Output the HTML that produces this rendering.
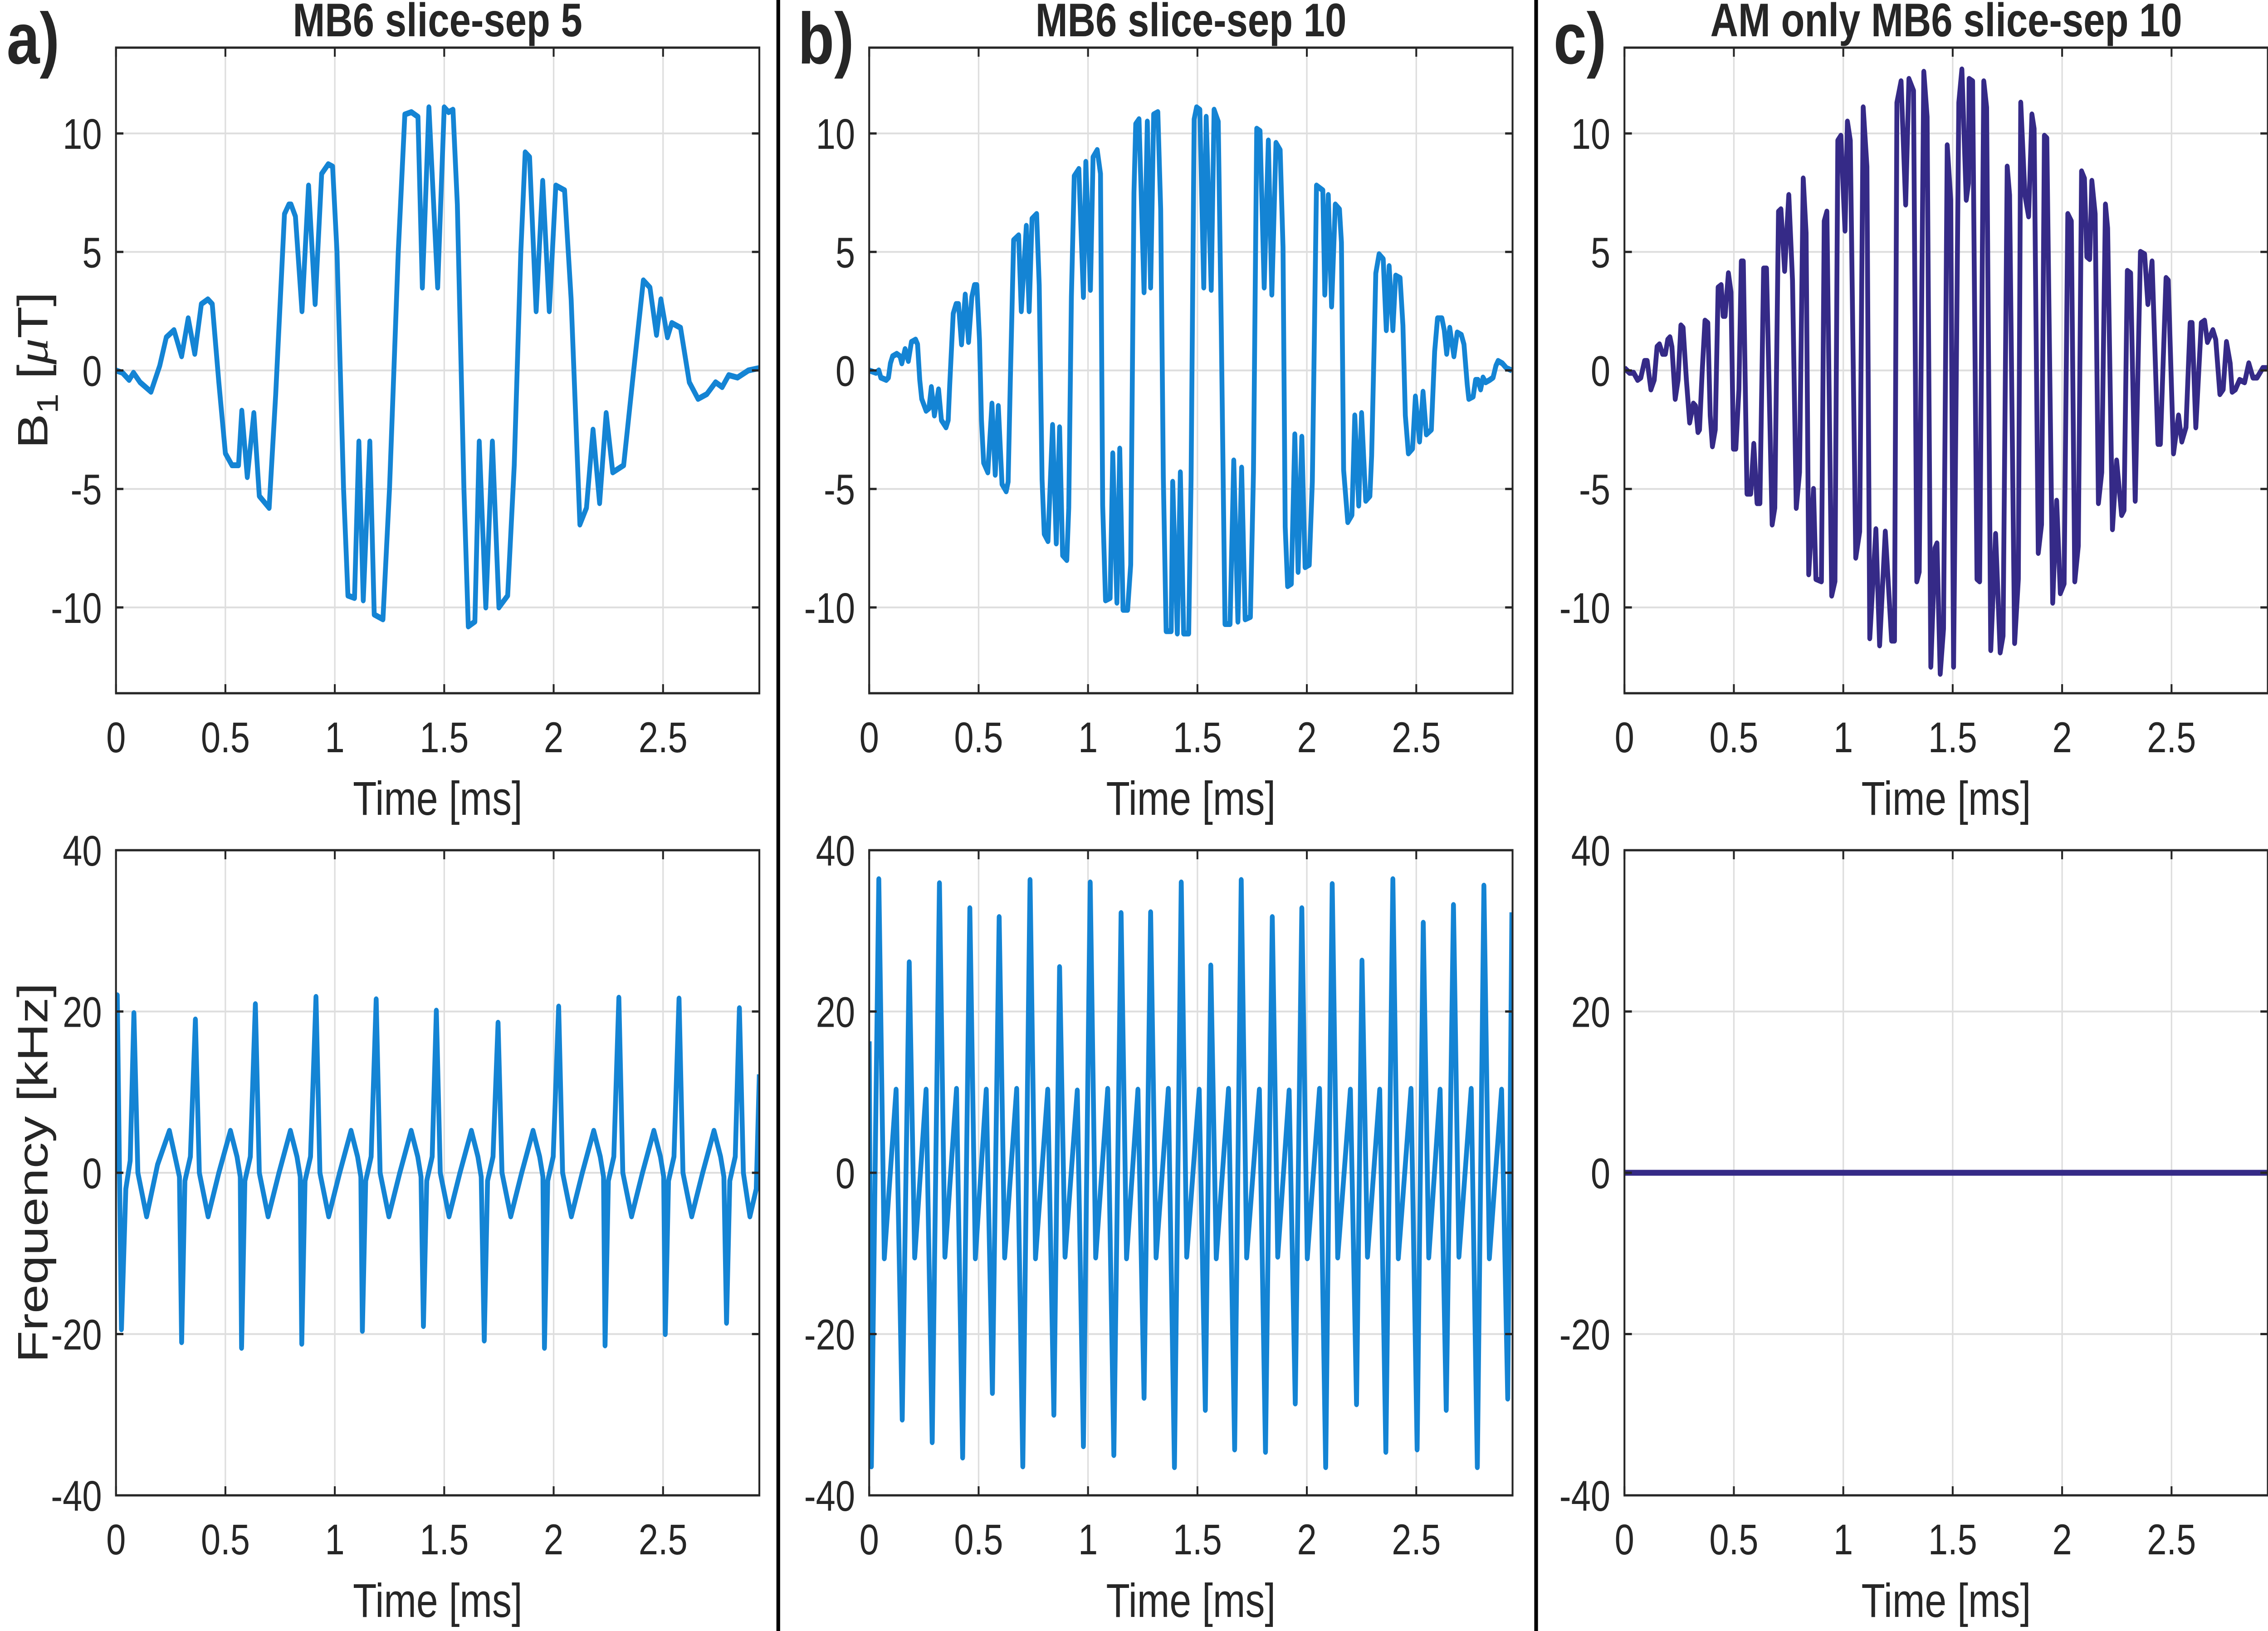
<!DOCTYPE html>
<html><head><meta charset="utf-8"><title>B1 and frequency waveforms</title>
<style>html,body{margin:0;padding:0;background:#fff;width:100%;height:100%;overflow:hidden;}svg{display:block;width:100vw;height:100vh;}
text{font-family:"Liberation Sans",Arial,sans-serif;fill:#262626;}</style></head>
<body>
<svg id="fig" xmlns="http://www.w3.org/2000/svg" viewBox="0 0 6111 3595" preserveAspectRatio="none"></svg>
<script>
// ---------- data ----------
const xTicks = [0, 0.5, 1, 1.5, 2, 2.5];
const xTickLabels = ["0", "0.5", "1", "1.5", "2", "2.5"];
const b1Ticks = [-10, -5, 0, 5, 10];
const b1TickLabels = ["-10", "-5", "0", "5", "10"];
const freqTicks = [-40, -20, 0, 20, 40];
const freqTickLabels = ["-40", "-20", "0", "20", "40"];
const panelTitles = ["MB6 slice-sep 5", "MB6 slice-sep 10", "AM only MB6 slice-sep 10"];
const panelLetters = ["a)", "b)", "c)"];

const aB1Time = [0,0.03,0.06,0.08,0.11,0.16,0.2,0.23,0.265,0.3,0.33,0.36,0.39,0.42,0.44,0.47,0.5,0.53,0.56,0.575,0.6,0.63,0.655,0.7,0.73,0.77,0.79,0.8,0.82,0.85,0.88,0.91,0.94,0.97,0.99,1.01,1.04,1.06,1.09,1.11,1.13,1.16,1.18,1.22,1.25,1.29,1.32,1.35,1.38,1.40,1.43,1.47,1.50,1.52,1.54,1.56,1.59,1.61,1.64,1.66,1.69,1.72,1.75,1.79,1.82,1.85,1.87,1.89,1.92,1.95,1.98,2.01,2.05,2.08,2.12,2.15,2.18,2.21,2.24,2.27,2.32,2.36,2.41,2.44,2.47,2.49,2.52,2.54,2.58,2.62,2.66,2.7,2.74,2.77,2.8,2.84,2.89,2.94];
const aB1Value = [0,-0.1,-0.4,-0.1,-0.5,-0.9,0.2,1.4,1.7,0.6,2.2,0.7,2.8,3.0,2.8,-0.5,-3.5,-4.0,-4.0,-1.7,-4.5,-1.8,-5.3,-5.8,-1.0,6.6,7.0,7.0,6.5,2.5,7.8,2.8,8.3,8.7,8.6,5,-5,-9.5,-9.6,-3.0,-9.7,-3.0,-10.3,-10.5,-5,5,10.8,10.9,10.7,3.5,11.1,3.5,11.1,10.9,11.0,7,-5,-10.8,-10.6,-3.0,-10.0,-3.0,-10.0,-9.5,-4,5,9.2,9.0,2.5,8.0,2.5,7.8,7.6,3,-6.5,-5.8,-2.5,-5.6,-1.8,-4.3,-4.0,-0.5,3.8,3.5,1.5,3.0,1.4,2.0,1.8,-0.5,-1.2,-1.0,-0.5,-0.7,-0.2,-0.3,0,0.1];

const aFreqTime = [0,0.006,0.025,0.045,0.065,0.082,0.1,0.14,0.19,0.244,0.27,0.29,
0.30,0.315,0.34,0.363,0.381,0.421,0.47,0.523,0.553,0.568,
0.574,0.589,0.614,0.637,0.655,0.695,0.745,0.797,0.827,0.842,
0.849,0.864,0.889,0.914,0.932,0.972,1.022,1.074,1.104,1.119,
1.126,1.141,1.166,1.189,1.207,1.247,1.297,1.349,1.379,1.394,
1.405,1.42,1.445,1.464,1.482,1.522,1.572,1.624,1.654,1.669,
1.683,1.698,1.723,1.746,1.764,1.804,1.854,1.906,1.936,1.951,
1.958,1.973,1.998,2.023,2.041,2.081,2.131,2.183,2.213,2.228,
2.235,2.25,2.275,2.298,2.316,2.356,2.406,2.458,2.488,2.503,
2.51,2.525,2.55,2.573,2.591,2.631,2.681,2.733,2.763,2.778,
2.79,2.805,2.83,2.849,2.867,2.897,2.926,2.94];
const aFreqValue = [0,22,-19.4,-2,1.5,19.8,0,-5.4,1,5.2,2,-0.5,
-21,-1,2,19,0,-5.4,0,5.2,2,-0.5,
-21.7,-1,2,20.9,0,-5.4,0,5.2,2,-0.5,
-21.2,-1,2,21.8,0,-5.4,0,5.2,2,-0.5,
-19.6,-1,2,21.5,0,-5.4,0,5.2,2,-0.5,
-19,-1,2,20.1,0,-5.4,0,5.2,2,-0.5,
-20.8,-1,2,18.6,0,-5.4,0,5.2,2,-0.5,
-21.7,-1,2,20.6,0,-5.4,0,5.2,2,-0.5,
-21.4,-1,2,21.7,0,-5.4,0,5.2,2,-0.5,
-20,-1,2,21.6,0,-5.4,0,5.2,2,-0.5,
-18.6,-1,2,20.4,0,-5.4,-2,12.2];

const bB1Time = [0,0.031,0.044,0.053,0.078,0.088,0.097,0.107,0.126,0.141,0.149,0.164,0.179,0.193,0.212,0.221,0.231,0.240,0.260,0.273,0.284,0.298,0.317,0.330,0.351,0.361,0.368,0.384,0.397,0.408,0.422,0.439,0.454,0.469,0.481,0.492,0.504,0.513,0.523,0.542,0.561,0.576,0.590,0.607,0.626,0.635,0.645,0.660,0.683,0.695,0.718,0.731,0.744,0.765,0.777,0.790,0.800,0.817,0.838,0.855,0.870,0.884,0.903,0.912,0.924,0.937,0.958,0.979,0.990,1.011,1.023,1.042,1.057,1.067,1.080,1.101,1.113,1.132,1.145,1.160,1.181,1.195,1.210,1.218,1.233,1.256,1.271,1.286,1.300,1.319,1.332,1.344,1.357,1.380,1.387,1.408,1.422,1.437,1.460,1.471,1.485,1.496,1.511,1.529,1.540,1.563,1.576,1.595,1.609,1.626,1.649,1.666,1.685,1.702,1.718,1.742,1.756,1.771,1.786,1.805,1.824,1.840,1.859,1.878,1.891,1.901,1.912,1.929,1.945,1.960,1.977,1.992,2.011,2.025,2.044,2.073,2.082,2.098,2.113,2.130,2.149,2.158,2.168,2.187,2.206,2.219,2.237,2.250,2.269,2.288,2.296,2.315,2.330,2.349,2.363,2.376,2.393,2.406,2.426,2.439,2.450,2.464,2.483,2.496,2.515,2.531,2.546,2.569,2.584,2.597,2.617,2.628,2.639,2.653,2.672,2.687,2.706,2.718,2.733,2.740,2.760,2.771,2.782,2.794,2.805,2.817,2.836,2.851,2.864,2.874,2.893,2.912,2.937];
const bB1Value = [0.0,-0.1,0,-0.3,-0.4,-0.3,0.3,0.6,0.7,0.6,0.3,0.9,0.4,1.2,1.3,1.1,-0.4,-1.2,-1.7,-1.6,-0.7,-1.9,-0.8,-2.1,-2.4,-2.1,-0.6,2.4,2.8,2.8,1.1,3.2,1.2,3.1,3.6,3.6,1.3,-2.1,-3.9,-4.3,-1.4,-4.4,-1.5,-4.8,-5.1,-4.7,-0.4,5.5,5.7,2.5,6.1,2.5,6.4,6.6,3.6,-4.6,-6.9,-7.2,-2.3,-7.3,-2.4,-7.8,-8.0,-5.8,3.1,8.2,8.5,3.1,8.8,3.4,9.0,9.3,8.3,-5.7,-9.7,-9.6,-3.5,-9.8,-3.3,-10.1,-10.1,-8.2,7.5,10.4,10.6,3.3,10.5,3.5,10.8,10.9,6.8,-4.5,-11.0,-11.0,-4.7,-11.1,-4.3,-11.1,-11.1,-4.6,10.6,11.1,11.0,3.5,10.7,3.4,11.0,10.5,1.7,-10.7,-10.7,-3.8,-10.6,-4.1,-10.5,-10.4,-4.3,10.2,10.1,3.5,9.7,3.2,9.6,9.3,5.2,-6.6,-9.1,-9.0,-2.7,-8.5,-2.8,-8.3,-8.2,-4.7,7.8,7.6,3.2,7.4,2.7,7.0,6.8,5.4,-4.2,-6.4,-6.1,-1.9,-5.7,-1.8,-5.5,-5.3,-3.6,4.1,4.9,4.7,1.7,4.4,1.7,4.0,3.9,1.9,-1.9,-3.5,-3.3,-1.1,-3.0,-0.9,-2.7,-2.5,0.8,2.2,2.2,1.7,0.7,1.8,0.6,1.6,1.5,1.1,-0.6,-1.2,-1.1,-0.4,-0.4,-0.8,-0.3,-0.5,-0.4,-0.3,0.2,0.4,0.3,0.1,0.0];

const bFreqTime = [0,0.010,0.044,0.069,0.123,
0.151,0.183,0.208,0.26,
0.288,0.321,0.346,0.399,
0.427,0.460,0.485,0.535,
0.563,0.594,0.619,0.674,
0.702,0.735,0.760,0.816,
0.844,0.870,0.895,0.951,
0.979,1.010,1.035,1.090,
1.118,1.151,1.176,1.228,
1.256,1.286,1.311,1.367,
1.395,1.426,1.451,1.508,
1.536,1.561,1.586,1.642,
1.670,1.700,1.725,1.783,
1.811,1.842,1.867,1.919,
1.947,1.977,2.002,2.058,
2.086,2.116,2.141,2.199,
2.227,2.252,2.277,2.333,
2.361,2.393,2.418,2.476,
2.504,2.532,2.557,2.609,
2.637,2.670,2.695,2.751,
2.779,2.809,2.834,2.890,
2.918,2.937];
const bFreqValue = [16.3,-36.4,36.4,-10.6,10.3,
-30.6,26.1,-10.5,10.3,
-33.4,35.9,-10.4,10.4,
-35.3,32.8,-10.6,10.3,
-27.3,31.7,-10.5,10.4,
-36.4,36.3,-10.6,10.3,
-30,25.5,-10.4,10.2,
-33.9,36,-10.5,10.4,
-35,32.2,-10.6,10.3,
-27.9,32.3,-10.5,10.4,
-36.5,36,-10.4,10.3,
-29.4,25.7,-10.6,10.4,
-34.3,36.3,-10.5,10.3,
-34.6,31.7,-10.4,10.2,
-28.6,32.8,-10.6,10.4,
-36.5,35.8,-10.5,10.3,
-28.7,26.3,-10.4,10.3,
-34.6,36.4,-10.6,10.4,
-34.3,31,-10.5,10.3,
-29.4,33.2,-10.4,10.4,
-36.5,35.6,-10.6,10.3,
-28,32.3];

const cB1Time = [0,0.023,0.042,0.060,0.075,0.092,0.104,0.121,0.136,0.149,0.160,0.174,0.187,0.198,0.208,0.217,0.232,0.245,0.258,0.268,0.283,0.298,0.315,0.325,0.336,0.343,0.355,0.368,0.381,0.392,0.402,0.415,0.428,0.442,0.451,0.460,0.475,0.487,0.498,0.509,0.523,0.534,0.543,0.560,0.577,0.591,0.606,0.619,0.636,0.649,0.675,0.687,0.704,0.715,0.732,0.751,0.768,0.785,0.800,0.817,0.830,0.842,0.864,0.875,0.900,0.913,0.925,0.947,0.962,0.975,0.989,1.008,1.019,1.032,1.057,1.075,1.091,1.108,1.121,1.149,1.166,1.192,1.221,1.234,1.245,1.264,1.285,1.300,1.321,1.336,1.347,1.368,1.383,1.400,1.419,1.428,1.443,1.458,1.475,1.491,1.504,1.528,1.542,1.562,1.572,1.575,1.591,1.611,1.623,1.642,1.655,1.674,1.696,1.717,1.730,1.749,1.760,1.783,1.800,1.811,1.830,1.847,1.862,1.872,1.891,1.906,1.919,1.930,1.957,1.975,1.992,2.009,2.026,2.042,2.058,2.074,2.089,2.102,2.113,2.126,2.136,2.151,2.166,2.181,2.198,2.208,2.230,2.249,2.272,2.283,2.298,2.313,2.334,2.358,2.377,2.392,2.411,2.438,2.449,2.475,2.485,2.509,2.532,2.547,2.566,2.585,2.594,2.611,2.636,2.651,2.664,2.689,2.702,2.721,2.736,2.751,2.768,2.777,2.792,2.811,2.834,2.853,2.872,2.891,2.917,2.936];
const cB1Value = [0.1,-0.1,-0.1,-0.4,-0.3,0.4,0.4,-0.8,-0.4,1.0,1.1,0.7,0.7,1.3,1.4,1.0,-1.2,-0.4,1.9,1.8,-0.4,-2.2,-1.4,-1.5,-2.6,-2.5,-0.1,2.1,2.0,-1.9,-3.2,-2.5,3.5,3.6,2.3,2.3,4.1,3.3,-3.3,-3.3,-0.8,4.6,4.6,-5.2,-5.2,-3.1,-5.6,-5.6,4.3,4.3,-6.5,-5.8,6.7,6.8,4.2,7.4,3.8,-5.8,-4.3,8.1,5.8,-8.6,-5.0,-8.8,-8.9,6.3,6.7,-9.5,-8.9,9.7,9.9,5.9,10.5,9.7,-7.9,-6.8,11.1,8.6,-11.3,-6.7,-11.6,-6.8,-11.4,-11.4,11.3,12.2,7.0,12.3,11.8,-8.9,-8.5,12.6,10.7,-12.5,-7.5,-7.3,-12.8,-10.9,9.5,7.2,-12.5,11.3,12.7,7.2,7.9,12.3,12.2,-8.8,-8.9,12.2,11.1,-11.8,-6.9,-11.9,-11.2,8.6,7.4,-11.5,-8.8,11.3,7.4,6.5,10.8,10.2,-7.7,-6.5,9.9,9.8,-9.8,-5.5,-9.4,-9.0,6.6,6.3,-8.9,-7.4,8.4,8.1,4.8,4.7,8.0,6.6,-5.6,-4.3,7.0,6.0,-6.7,-3.8,-6.1,-5.9,4.2,4.1,-5.5,5.0,4.9,2.8,4.6,-3.1,-3.1,3.9,3.8,-3.5,-1.9,-3.0,-2.4,2.0,2.0,-2.4,2.0,2.1,1.2,1.7,1.3,-1.0,-0.8,1.2,0.3,-0.9,-0.8,-0.4,-0.5,0.3,-0.3,-0.3,0.1,0.1];

const cFreqTime = [0, 2.94];
const cFreqValue = [0, 0];

// ---------- layout ----------
const NS = "http://www.w3.org/2000/svg";
const svg = document.getElementById("fig");
const panelLeft = [312.5, 2342, 4377];
const AX_W = 1733.5;
const rowTop = [105, 1874];
const rowBottom = [1528, 3296];
const XMAX = 2.94;
const BLUE = "#1484d4", PURPLE = "#352a87";

function mk(tag, attrs, parent) {
  const e = document.createElementNS(NS, tag);
  for (const k in attrs) e.setAttribute(k, attrs[k]);
  (parent || svg).appendChild(e);
  return e;
}

function drawAxes(p, row, ticks, tickLabels, ymin, ymax, times, values, color, seriesName) {
  const L = panelLeft[p], R = L + AX_W, T = rowTop[row], B = rowBottom[row];
  const xs = t => L + (t / XMAX) * AX_W;
  const ys = v => B - (v - ymin) / (ymax - ymin) * (B - T);
  const g = mk("g", {});
  
  
  xTicks.forEach(t => {
    const ln = mk("line", {x1: xs(t), x2: xs(t), y1: T, y2: B, stroke: "#dedede", "stroke-width": 4}, g);
    
    
  });
  ticks.forEach(v => {
    const ln = mk("line", {x1: L, x2: R, y1: ys(v), y2: ys(v), stroke: "#dedede", "stroke-width": 4}, g);
    
    
  });
  const clipId = "clip" + p + row;
  const cp = mk("clipPath", {id: clipId}, g);
  mk("rect", {x: L, y: T, width: AX_W, height: B - T}, cp);
  let d = "";
  for (let i = 0; i < times.length; i++) d += (i ? "L" : "M") + xs(times[i]).toFixed(1) + "," + ys(values[i]).toFixed(1);
  const path = mk("path", {d: d, fill: "none", stroke: color, "stroke-width": 13, "stroke-linejoin": "round", "clip-path": "url(#" + clipId + ")"}, g);
  
  
  const box = mk("rect", {x: L, y: T, width: AX_W, height: B - T, fill: "none", stroke: "#262626", "stroke-width": 5}, g);
  
  
  xTicks.forEach((t, i) => {
    mk("line", {x1: xs(t), x2: xs(t), y1: B, y2: B - 20, stroke: "#262626", "stroke-width": 5}, g);
    mk("line", {x1: xs(t), x2: xs(t), y1: T, y2: T + 20, stroke: "#262626", "stroke-width": 5}, g);
    const tx = mk("text", {x: xs(t), y: B + 130, "font-size": 95, "text-anchor": "middle"}, g);
    tx.textContent = xTickLabels[i];
    
    
  });
  ticks.forEach((v, i) => {
    mk("line", {x1: L, x2: L + 20, y1: ys(v), y2: ys(v), stroke: "#262626", "stroke-width": 5}, g);
    mk("line", {x1: R, x2: R - 20, y1: ys(v), y2: ys(v), stroke: "#262626", "stroke-width": 5}, g);
    const ty = mk("text", {x: L - 38, y: ys(v) + 34, "font-size": 95, "text-anchor": "end"}, g);
    ty.textContent = tickLabels[i];
    
    
  });
  const xl = mk("text", {x: (L + R) / 2, y: B + 268, "font-size": 105, "text-anchor": "middle"}, g);
  xl.textContent = "Time [ms]";
  
  
}

const series = [
  [aB1Time, aB1Value, aFreqTime, aFreqValue, BLUE],
  [bB1Time, bB1Value, bFreqTime, bFreqValue, BLUE],
  [cB1Time, cB1Value, cFreqTime, cFreqValue, PURPLE]
];
for (let p = 0; p < 3; p++) {
  const s = series[p];
  drawAxes(p, 0, b1Ticks, b1TickLabels, -13.62, 13.62, s[0], s[1], s[4], 'b1-line-' + panelLetters[p].charAt(0));
  drawAxes(p, 1, freqTicks, freqTickLabels, -40, 40, s[2], s[3], s[4], 'frequency-line-' + panelLetters[p].charAt(0));
}

const titleX = [1179, 3209, 5244];
const letterX = [18, 2150, 4186];
for (let p = 0; p < 3; p++) {
  const t = mk("text", {x: titleX[p], y: 80, "font-size": 104, "font-weight": "bold", "text-anchor": "middle", fill: "#000"});
  t.textContent = panelTitles[p];
  
  
  const l = mk("text", {x: letterX[p], y: 140, "font-size": 160, "font-weight": "bold", fill: "#000"});
  l.textContent = panelLetters[p];
  
  
}
[2097, 4139].forEach(x => {
  const ln = mk("line", {x1: x, x2: x, y1: 0, y2: 3595, stroke: "#000", "stroke-width": 10});
  
  
});
const yl1 = mk("text", {x: 0, y: 0, "font-size": 115, "text-anchor": "middle", transform: "translate(128,816) rotate(-90)"});
yl1.innerHTML = 'B<tspan font-size="80" dy="28">1</tspan><tspan dy="-28"> [</tspan><tspan font-family="Liberation Serif, serif" font-style="italic">μ</tspan>T]';


const yl2 = mk("text", {x: 0, y: 0, "font-size": 115, "text-anchor": "middle", transform: "translate(128,2585) rotate(-90)"});
yl2.textContent = "Frequency [kHz]";


</script>
</body></html>
